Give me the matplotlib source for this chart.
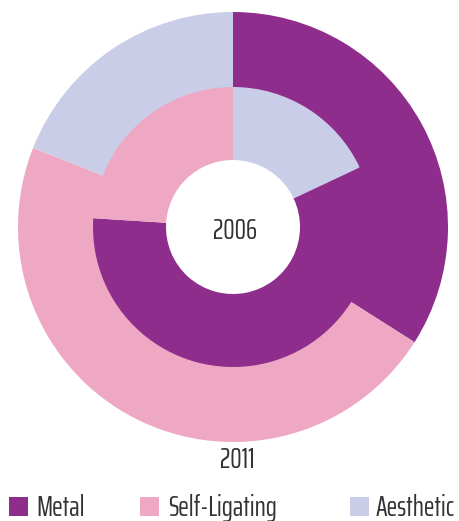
import matplotlib
matplotlib.use("Agg")
import matplotlib.pyplot as plt
from matplotlib.patches import Rectangle

categories = ["Metal", "Self-Ligating", "Aesthetic"]
values_2011 = [34, 47, 19]
values_2006 = [58, 24, 18]
colors = ["#8e2d8c", "#efa8c3", "#cacde8"]
ring_labels = ["2006", "2011"]

txt_kw = dict(family=["Saira ExtraCondensed", "DejaVu Sans"], color="#333333")

W, H = 459, 521
fig = plt.figure(figsize=(W / 100, H / 100), dpi=100)
cx, cy, R = 233, 227, 215
ax = fig.add_axes([(cx - R) / W, (H - cy - R) / H, 2 * R / W, 2 * R / H])
ax.set_aspect("equal")
ax.axis("off")

# outer ring: 2011 (slightly overlaps under the inner ring to avoid a seam)
ax.pie(values_2011, colors=colors, radius=1.0, startangle=90, counterclock=False,
       wedgeprops=dict(width=77 / R, linewidth=0))
# inner ring: 2006 (starts with Aesthetic at top)
order = [2, 0, 1]
ax.pie([values_2006[i] for i in order], colors=[colors[i] for i in order],
       radius=140 / R, startangle=90, counterclock=False,
       wedgeprops=dict(width=73 / R, linewidth=0))
ax.set_xlim(-1, 1)
ax.set_ylim(-1, 1)

fs = 20.5
fig.text(235 / W, 1 - 239 / H, ring_labels[0], ha="center", va="baseline", fontsize=fs, **txt_kw)
fig.text(237 / W, 1 - 468 / H, ring_labels[1], ha="center", va="baseline", fontsize=fs, **txt_kw)

# legend
box_x = [9, 140, 350]
text_x = [36, 168, 376]
for bx, tx, lab, col in zip(box_x, text_x, categories, colors):
    fig.patches.append(Rectangle((bx / W, 1 - 516 / H), 19 / W, 19 / H,
                                 transform=fig.transFigure, color=col, linewidth=0))
    fig.text(tx / W, 1 - 516 / H, lab, ha="left", va="baseline", fontsize=fs, **txt_kw)

fig.savefig("out.png", dpi=100)
